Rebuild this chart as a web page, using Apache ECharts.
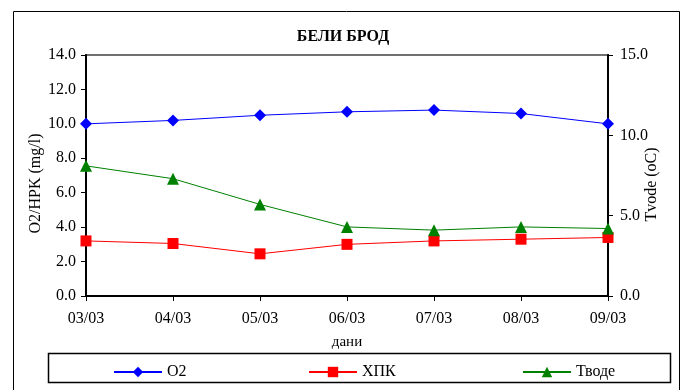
<!DOCTYPE html>
<html>
<head>
<meta charset="utf-8">
<script src="https://cdn.jsdelivr.net/npm/echarts@6/dist/echarts.min.js"></script>
<style>
  html, body { margin: 0; padding: 0; background: #fff; }
  #chart { width: 686px; height: 390px; }
</style>
</head>
<body>
<div id="chart"></div>
<script>
var days = ['03/03', '04/03', '05/03', '06/03', '07/03', '08/03', '09/03'];
var o2 = [10.0, 10.2, 10.5, 10.7, 10.8, 10.6, 10.0];
var hpk = [3.2, 3.05, 2.45, 3.0, 3.2, 3.3, 3.4];
var tvode = [8.1, 7.3, 5.7, 4.3, 4.1, 4.3, 4.2];

var font = 'Liberation Serif';

var option = {
    animation: false,
    backgroundColor: '#fff',
    textStyle: { fontFamily: font, color: '#000' },
    title: {
        text: 'БЕЛИ БРОД',
        left: 'center',
        top: 24,
        textStyle: { fontFamily: font, fontSize: 16, fontWeight: 'bold', color: '#000' }
    },
    graphic: [
        { type: 'rect', shape: { x: 13.5, y: 11.5, width: 666, height: 400 },
          style: { fill: 'none', stroke: '#000', lineWidth: 1 } },
        { type: 'rect', shape: { x: 48.5, y: 353.5, width: 622, height: 29 },
          style: { fill: 'none', stroke: '#000', lineWidth: 1.5 } }
    ],
    legend: [
        { data: ['O2'], left: 108, top: 359 },
        { data: ['ХПК'], left: 303, top: 359 },
        { data: ['Тводе'], left: 517, top: 359 }
    ].map(function (l) {
        l.itemWidth = 48;
        l.itemHeight = 13;
        l.itemGap = 4;
        l.textStyle = { fontFamily: font, fontSize: 16, color: '#000' };
        return l;
    }),
    grid: {
        left: 86, right: 78, top: 55, bottom: 94,
        show: true, borderColor: '#707070', borderWidth: 2
    },
    xAxis: {
        type: 'category',
        data: days,
        boundaryGap: false,
        name: 'дани',
        nameLocation: 'middle',
        nameGap: 39,
        nameMoveOverlap: false,
        nameTextStyle: { fontFamily: font, fontSize: 15, color: '#000' },
        axisLine: { lineStyle: { color: '#000', width: 2 } },
        axisTick: { show: true, length: 5, alignWithLabel: true, lineStyle: { color: '#000' } },
        axisLabel: { fontFamily: font, fontSize: 16, color: '#000', margin: 15 }
    },
    yAxis: [
        {
            type: 'value', min: 0, max: 14, interval: 2,
            name: 'O2/HPK (mg/l)',
            nameLocation: 'middle',
            nameGap: 42,
            nameMoveOverlap: false,
            nameRotate: 90,
            nameTextStyle: { fontFamily: font, fontSize: 16, color: '#000', padding: [0, 16, 0, 0] },
            axisLine: { show: true, lineStyle: { color: '#000', width: 2 } },
            axisTick: { show: true, length: 5, lineStyle: { color: '#000' } },
            axisLabel: { fontFamily: font, fontSize: 16, color: '#000', margin: 10,
                formatter: function (v) { return v.toFixed(1); } },
            splitLine: { show: false }
        },
        {
            type: 'value', min: 0, max: 15, interval: 5,
            position: 'right',
            name: 'Tvode (oC)',
            nameLocation: 'middle',
            nameGap: 36,
            nameMoveOverlap: false,
            nameRotate: 90,
            nameTextStyle: { fontFamily: font, fontSize: 16, color: '#000', padding: [0, 18, 0, 0] },
            axisLine: { show: true, lineStyle: { color: '#000', width: 2 } },
            axisTick: { show: true, length: 5, lineStyle: { color: '#000' } },
            axisLabel: { fontFamily: font, fontSize: 16, color: '#000', margin: 12,
                formatter: function (v) { return v.toFixed(1); } },
            splitLine: { show: false }
        }
    ],
    series: [
        {
            name: 'O2', type: 'line', data: o2,
            symbol: 'diamond', symbolSize: 12,
            itemStyle: { color: '#0000ff' },
            lineStyle: { color: '#0000ff', width: 1 }
        },
        {
            name: 'ХПК', type: 'line', data: hpk,
            symbol: 'rect', symbolSize: 11,
            itemStyle: { color: '#ff0000' },
            lineStyle: { color: '#ff0000', width: 1 }
        },
        {
            name: 'Тводе', type: 'line', data: tvode, yAxisIndex: 1,
            symbol: 'triangle', symbolSize: 12,
            itemStyle: { color: '#008000' },
            lineStyle: { color: '#008000', width: 1 }
        }
    ]
};

var myChart = echarts.init(document.getElementById('chart'));
myChart.setOption(option);
</script>
</body>
</html>
